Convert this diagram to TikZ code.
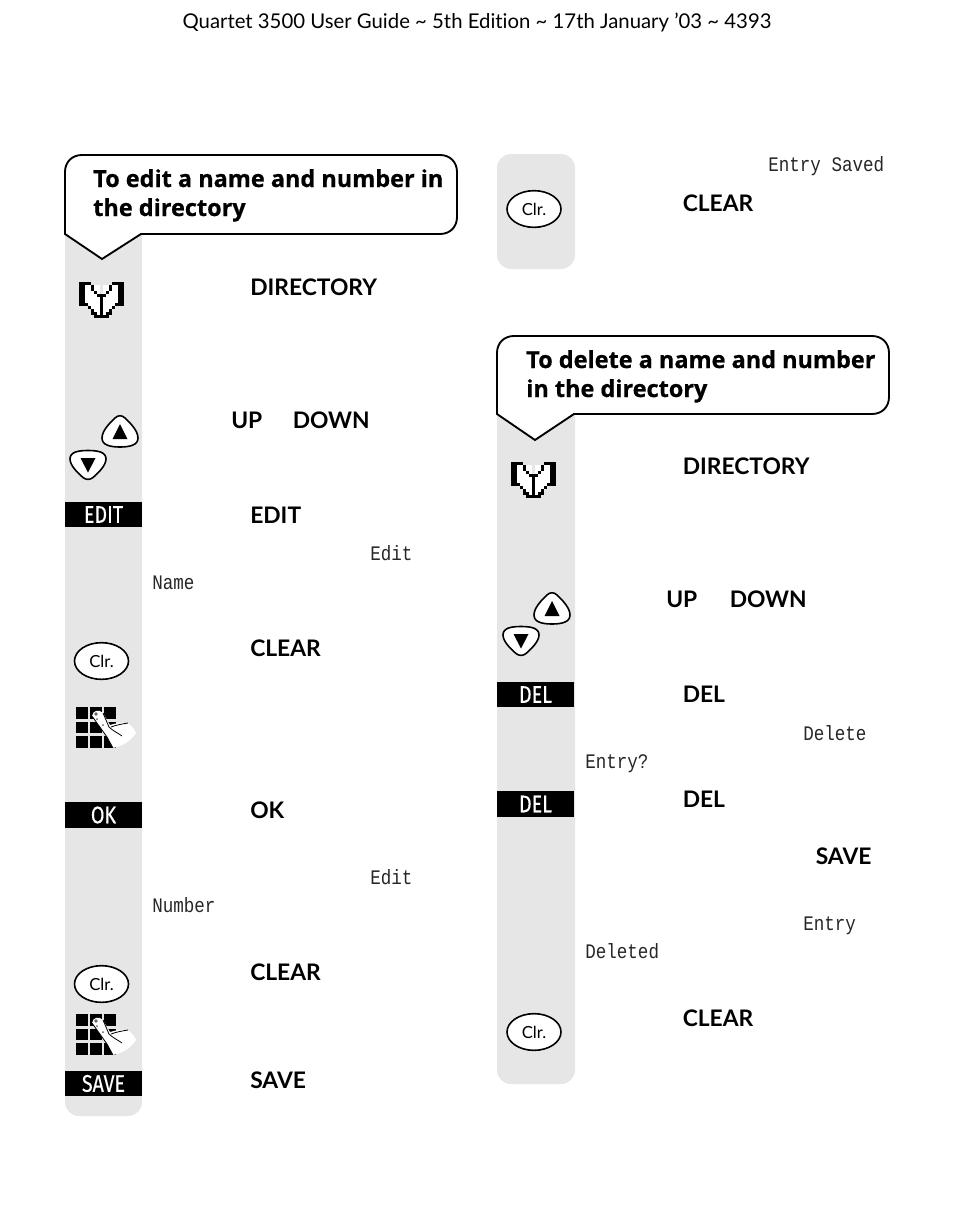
\documentclass[tikz,border=0pt]{standalone}
\usepackage{fontspec}
\setmainfont[Ligatures=NoCommon]{Lato}
\newfontfamily\headf[BoldFeatures={FakeBold=0.7}]{Open Sans}
\newfontfamily\softf[FakeStretch=0.82,FakeBold=0.3]{Fira Sans}
\newfontfamily\lcdf[FakeStretch=0.85]{Liberation Mono}
\definecolor{strip}{HTML}{E6E6E6}
\tikzset{x=0.75pt,y=-0.75pt,
 lbl/.style={anchor=base west,inner sep=0,font=\fontsize{17.1}{20}\selectfont\bfseries},
 hd/.style={anchor=base west,inner sep=0,align=left,font=\headf\fontsize{17.6}{22}\selectfont\bfseries},
 lcd/.style={anchor=base west,inner sep=0,text=black!85,font=\lcdf\fontsize{15.5}{18}\selectfont},
 soft/.style={fill=black,text=white,inner sep=0,minimum width=57.75pt,font=\softf\fontsize{18}{20}\selectfont},
 clr/.style={draw=black,line width=1.2pt,fill=white,ellipse,inner sep=0,minimum width=40.5pt,minimum height=27.5pt,font=\fontsize{12.5}{14}\selectfont},
 callout/.style={draw=black,line width=1.4pt,fill=white,line join=miter},
 btn/.style={draw=black,line width=1.2pt,fill=white},
}
\usetikzlibrary{shapes.geometric}
\newcommand{\diricon}[2]{%
 \begin{scope}[shift={(#1,#2)},x=2.25pt,y=-2.25pt]
  \fill[white] (2,1) rectangle (7,8) (8,1) rectangle (13,8) (3,8) rectangle (12,9) (4,9) rectangle (11,10) (5,10) rectangle (10,11);
  \foreach \r/\cs in {0/{0,1,2,3,11,12,13,14},1/{0,1,4,10,13,14},2/{0,1,4,10,13,14},3/{0,1,5,9,13,14},4/{0,1,6,7,8,13,14},5/{0,1,7,13,14},6/{0,1,7,13,14},7/{0,1,2,7,12,13,14},8/{3,7,11},9/{4,7,10},10/{4,5,7,9,10},11/{5,6,7,8,9}}{
   \foreach \c in \cs {\fill[black] (\c+.14,\r+.14) rectangle (\c+.86,\r+.86);}
  }
 \end{scope}}
\newcommand{\keypad}[2]{%
 \begin{scope}[shift={(#1,#2)}]
  \foreach \i in {0,1,2}{\foreach \j in {0,1,2}{\fill[black] (14.2*\i,14.5*\j) rectangle ++(11.6,11.6);}}
  \fill[white] (16,9) .. controls (17,3) and (23,2) .. (27,6) -- (34,18) .. controls (41,16) and (47,15) .. (52,16)
    .. controls (56,19) and (59,23) .. (60,26) .. controls (54,35) and (46,39) .. (37,41) -- (31,30) -- cycle;
  \draw[black,line width=.6pt] (16,9) -- (31,30) -- (37,41) (27,6) -- (33,20) .. controls (37,24) and (42,26) .. (46,29)
    (35,20) .. controls (40,18) and (46,17) .. (52,16);
  \fill[black!60] (20,7) circle (1.8) (27,18) circle (1) (21,12) circle (1);
 \end{scope}}
\newcommand{\upbtn}[2]{%
 \begin{scope}[shift={(#1,#2)}]
  \draw[btn] (0,6) .. controls (0,-2) and (9,-10) .. (13,-14) .. controls (16,-17) and (20,-17) .. (23,-14)
   .. controls (27,-10) and (36,-2) .. (36,6) .. controls (36,13) and (28,15) .. (18,15) .. controls (8,15) and (0,13) .. (0,6) -- cycle;
  \fill[black] (18,-8) -- (25.5,7) -- (10.5,7) -- cycle;
 \end{scope}}
\newcommand{\downbtn}[2]{%
 \begin{scope}[shift={(#1,#2)}]
  \draw[btn] (0,-6) .. controls (0,-13) and (8,-14.5) .. (18,-14.5) .. controls (28,-14.5) and (36,-13) .. (36,-6)
   .. controls (36,1) and (27,9) .. (23,12.5) .. controls (20,15) and (16,15) .. (13,12.5) .. controls (9,9) and (0,1) .. (0,-6) -- cycle;
  \fill[black] (18,7.5) -- (25.5,-7) -- (10.5,-7) -- cycle;
 \end{scope}}
\begin{document}
\begin{tikzpicture}
\useasboundingbox (0,0) rectangle (954,1225);
% strips
\fill[strip] (65,225) -- (142,225) -- (142,1102) arc[start angle=0,end angle=90,radius=14] -- (79,1116) arc[start angle=90,end angle=180,radius=14] -- cycle;
\fill[strip,rounded corners=10.5pt] (497,154) rectangle (575,269);
\fill[strip] (497,405) -- (575,405) -- (575,1070) arc[start angle=0,end angle=90,radius=14] -- (511,1084) arc[start angle=90,end angle=180,radius=14] -- cycle;
% header
\node[anchor=base,inner sep=0,font=\fontsize{15.25}{18}\selectfont] (title) at (477,28) {Quartet 3500 User Guide \textasciitilde{} 5th Edition \textasciitilde{} 17th January ’03 \textasciitilde{} 4393};
% callouts
\draw[callout] (65,234) -- (65,172) .. controls (65,162) and (72,155) .. (82,155) -- (440,155) .. controls (450,155) and (457,162) .. (457,172) -- (457,217) .. controls (457,227) and (450,234) .. (440,234) -- (141,234) -- (102,259) -- cycle;
\node[hd] (h1a) at (93,187) {To edit a name and number in};
\node[hd] (h1b) at (93,216) {the directory};
\draw[callout] (497,414) -- (497,353) .. controls (497,343) and (504,336) .. (514,336) -- (872,336) .. controls (882,336) and (889,343) .. (889,353) -- (889,397) .. controls (889,407) and (882,414) .. (872,414) -- (574,414) -- (535,440) -- cycle;
\node[hd] (h2a) at (526,368) {To delete a name and number};
\node[hd] (h2b) at (526,397) {in the directory};
% left icons
\diricon{79}{282}
\upbtn{102}{432}
\downbtn{70}{465}
\node[soft,minimum height=18.75pt] (k1) at (103.5,514.5) {EDIT};
\node[clr] (c1) at (101.5,661) {Clr.};
\keypad{76}{707}
\node[soft,minimum height=19.5pt] (k2) at (103.5,815) {OK};
\node[clr] (c2) at (101.5,984) {Clr.};
\keypad{76}{1014}
\node[soft,minimum height=18.75pt] (k3) at (103.5,1083.5) {SAVE};
% right icons
\node[clr] (c3) at (534,209) {Clr.};
\diricon{511}{462}
\upbtn{534}{609}
\downbtn{503}{641}
\node[soft,minimum height=18.75pt] (k4) at (535.5,694.5) {DEL};
\node[soft,minimum height=19.5pt] (k5) at (535.5,804) {DEL};
\node[clr] (c4) at (534,1032) {Clr.};
% labels left
\node[lbl] (l1) at (250,295) {DIRECTORY};
\node[lbl] (l2) at (231,428) {UP};
\node[lbl] (l3) at (292.5,428) {DOWN};
\node[lbl] (l4) at (250,523) {EDIT};
\node[lbl] (l5) at (250,656) {CLEAR};
\node[lbl] (l6) at (250,818) {OK};
\node[lbl] (l7) at (250,980) {CLEAR};
\node[lbl] (l8) at (250,1088) {SAVE};
% labels right
\node[lbl] (r1) at (682.5,211) {CLEAR};
\node[lbl] (r2) at (682.5,474) {DIRECTORY};
\node[lbl] (r3) at (666,607) {UP};
\node[lbl] (r4) at (729.5,607) {DOWN};
\node[lbl] (r5) at (682.5,702) {DEL};
\node[lbl] (r6) at (682.5,807) {DEL};
\node[lbl] (r7) at (815.5,864) {SAVE};
\node[lbl] (r8) at (682.5,1026) {CLEAR};
% lcd
\node[lcd] (d1) at (370,560) {Edit};
\node[lcd] (d2) at (152,589) {Name};
\node[lcd] (d3) at (370,884) {Edit};
\node[lcd] (d4) at (152,912) {Number};
\node[lcd] (d5) at (768,171) {Entry Saved};
\node[lcd] (d6) at (803,740) {Delete};
\node[lcd] (d7) at (585,768) {Entry?};
\node[lcd] (d8) at (803,930) {Entry};
\node[lcd] (d9) at (585,958) {Deleted};
\end{tikzpicture}
\end{document}
